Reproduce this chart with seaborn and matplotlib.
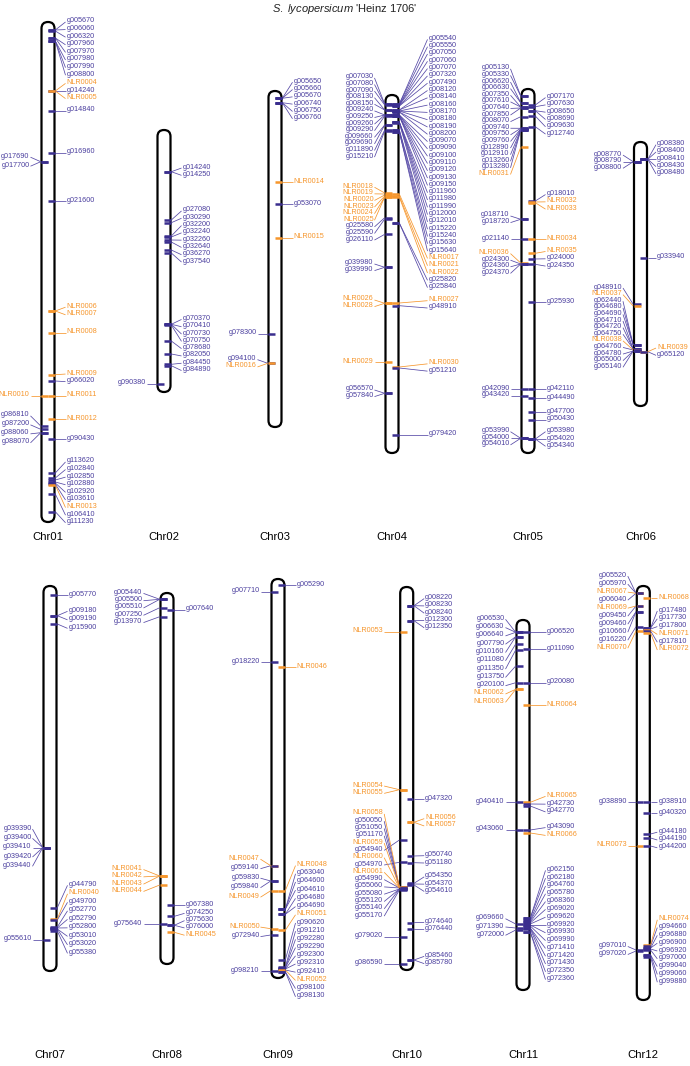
import numpy as np
import pandas as pd
import matplotlib
matplotlib.use("Agg")
import matplotlib.pyplot as plt
from matplotlib.patches import FancyBboxPatch
from matplotlib.collections import LineCollection
import seaborn as sns

# ---- data: chromosomes (map positions along each chromosome) ----
chrom_names = ["Chr01", "Chr02", "Chr03", "Chr04", "Chr05", "Chr06",
               "Chr07", "Chr08", "Chr09", "Chr10", "Chr11", "Chr12"]
chrom_start = [22, 130, 91, 95, 89, 142, 586, 593, 579, 587, 620, 586]
chrom_end = [522, 392, 427, 453, 453, 406, 971, 964, 978, 970, 990, 1000]

chr01_left_ids = ["g017690", "g017700", "NLR0010", "g086810", "g087200", "g088060", "g088070"]
chr01_left_pos = [161.7, 161.7, 395.7, 426, 429.3, 432.7, 432.7]
chr01_right_ids = ["g005670", "g006060", "g006320", "g007960", "g007970", "g007980", "g007990",
                   "g008800", "NLR0004", "g014240", "NLR0005", "g014840", "g016960", "g021600",
                   "NLR0006", "NLR0007", "NLR0008", "NLR0009", "g066020", "NLR0011", "NLR0012",
                   "g090430", "g113620", "g102840", "g102850", "g102880", "g102920", "g103610",
                   "NLR0013", "g106410", "g111230"]
chr01_right_pos = [30, 30, 31, 38, 38, 41, 41, 41, 91, 91, 91, 110.7, 152.7, 201, 311, 311, 332.7,
                   374.7, 381, 395.7, 419.3, 439.3, 473, 478, 480, 482, 483, 484, 485, 494, 511.7]

chr02_left_ids = ["g090380"]
chr02_left_pos = [384]
chr02_right_ids = ["g014240", "g014250", "g027080", "g030290", "g032200", "g032240", "g032260",
                   "g032640", "g036270", "g037540", "g070370", "g070410", "g070730", "g070750",
                   "g078680", "g082050", "g084450", "g084890"]
chr02_right_pos = [171.7, 171.7, 220, 222.7, 236, 237, 240, 242, 250, 253, 324.3, 324.3, 324.3,
                   325, 341, 354, 364.3, 365.7]

chr03_left_ids = ["g078300", "g094100", "NLR0016"]
chr03_left_pos = [334, 363.3, 363.3]
chr03_right_ids = ["g005650", "g005660", "g005670", "g006740", "g006750", "g006760", "NLR0014",
                   "g053070", "NLR0015"]
chr03_right_pos = [98.3, 98.3, 98.3, 102.7, 102.7, 102.7, 182.3, 204.3, 237.7]

chr04_left_ids = ["g007030", "g007080", "g007090", "g008130", "g008150", "g009240", "g009250",
                  "g009260", "g009290", "g009660", "g009690", "g011890", "g015210", "NLR0018",
                  "NLR0019", "NLR0020", "NLR0023", "NLR0024", "NLR0025", "g025580", "g025590",
                  "g026110", "g039980", "g039990", "NLR0026", "NLR0028", "NLR0029", "g056570",
                  "g057840"]
chr04_left_pos = [104, 104, 105, 110, 110, 115, 115, 115, 116, 125, 125, 130, 131, 193, 194, 195,
                  196, 197, 197, 217.7, 219, 234.3, 267.3, 267.3, 303.3, 303.3, 362.3, 393.3, 393.3]
chr04_right_ids = ["g005540", "g005550", "g007050", "g007060", "g007070", "g007320", "g007490",
                   "g008120", "g008140", "g008160", "g008170", "g008180", "g008190", "g008200",
                   "g009070", "g009090", "g009100", "g009110", "g009120", "g009130", "g009150",
                   "g011960", "g011980", "g011990", "g012000", "g012010", "g015220", "g015240",
                   "g015630", "g015640", "NLR0017", "NLR0021", "NLR0022", "g025820", "g025840",
                   "NLR0027", "g048910", "NLR0030", "g051210", "g079420"]
chr04_right_pos = [104, 104, 105, 105, 105, 106, 106, 110, 110, 111, 111, 111, 112, 112, 115, 115,
                   115, 116, 116, 116, 116, 122, 122, 122, 122, 123, 130, 130, 132, 132, 194, 196,
                   197, 223, 223, 303, 305.7, 367, 368, 434.7]

chr05_left_ids = ["g005130", "g005330", "g006620", "g006630", "g007350", "g007610", "g007640",
                  "g007850", "g008070", "g009740", "g009750", "g009760", "g012890", "g012910",
                  "g013260", "g013280", "NLR0031", "g018710", "g018720", "g021140", "NLR0036",
                  "g024300", "g024360", "g024370", "g042090", "g043420", "g053990", "g054000",
                  "g054010"]
chr05_left_pos = [96, 96, 102.7, 102.7, 107, 107, 108, 108, 116.7, 128.3, 128.3, 129, 129, 130,
                  130, 130, 147.3, 219.3, 219.3, 239, 263, 264, 264, 264, 389, 396, 438.3, 438.3,
                  438.3]
chr05_right_ids = ["g007170", "g007630", "g008650", "g008690", "g009630", "g012740", "g018010",
                   "NLR0032", "NLR0033", "NLR0034", "NLR0035", "g024000", "g024350", "g025930",
                   "g042110", "g044490", "g047700", "g050430", "g053980", "g054020", "g054340"]
chr05_right_pos = [105, 106.7, 110.7, 110.7, 116, 126.7, 201, 202, 202.7, 239, 253.3, 259, 264.3,
                   302.3, 389, 398.3, 412.3, 420, 439, 439, 439]

chr06_left_ids = ["g008770", "g008790", "g008800", "g048910", "NLR0037", "g062440", "g064680",
                  "g064690", "g064710", "g064720", "g064750", "NLR0038", "g064760", "g064780",
                  "g065000", "g065140"]
chr06_left_pos = [161.7, 161.7, 161.7, 304.3, 306, 345, 345, 345, 349, 349, 349, 350, 350, 351,
                  351, 351]
chr06_right_ids = ["g008380", "g008400", "g008410", "g008430", "g008480", "g033940", "NLR0039",
                   "g065120"]
chr06_right_pos = [159.3, 159.3, 159.3, 159.3, 159.3, 258, 351.7, 351.7]

chr07_left_ids = ["g039390", "g039400", "g039410", "g039420", "g039440", "g055610"]
chr07_left_pos = [847.7, 847.7, 847.7, 847.7, 847.7, 940]
chr07_right_ids = ["g005770", "g009180", "g009190", "g015900", "g044790", "NLR0040", "g049700",
                   "g052770", "g052790", "g052800", "g053010", "g053020", "g055380"]
chr07_right_pos = [595, 615.7, 615.7, 624, 907.7, 919, 920, 927, 928, 928, 929, 929, 931]

chr08_left_ids = ["g005440", "g005500", "g005510", "g007250", "g013970", "NLR0041", "NLR0042",
                  "NLR0043", "NLR0044", "g075640"]
chr08_left_pos = [599.3, 599.3, 599.3, 607.7, 616.7, 876, 876, 876, 885, 924.3]
chr08_right_ids = ["g007640", "g067380", "g074250", "g075630", "g076000", "NLR0045"]
chr08_right_pos = [610, 905.3, 916.3, 925.3, 925.3, 932.3]

chr09_left_ids = ["g007710", "g018220", "NLR0047", "g059140", "g059830", "g059840", "NLR0049",
                  "NLR0050", "g072940", "g098210"]
chr09_left_pos = [591.7, 662.3, 865.7, 865.7, 881, 881, 890.7, 928.7, 935, 971]
chr09_right_ids = ["g005290", "NLR0046", "NLR0048", "g063040", "g064600", "g064610", "g064680",
                   "g064690", "NLR0051", "g090620", "g091210", "g092280", "g092290", "g092300",
                   "g092310", "g092410", "NLR0052", "g098100", "g098130"]
chr09_right_pos = [585, 667.3, 890.7, 909.3, 909.3, 909.3, 914.3, 914.3, 930.3, 960, 967, 968,
                   968, 969, 969, 970, 970, 971.7, 971.7]

chr10_left_ids = ["NLR0053", "NLR0054", "NLR0055", "NLR0058", "g050050", "g051050", "g051170",
                  "NLR0059", "g054940", "NLR0060", "g054970", "NLR0061", "g054990", "g055060",
                  "g055080", "g055120", "g055140", "g055170", "g079020", "g086590"]
chr10_left_pos = [632, 789.7, 789.7, 887, 887, 887, 887, 887, 840, 888, 862.3, 888, 888, 888, 889,
                  889, 889, 890, 936.7, 964]
chr10_right_ids = ["g008220", "g008230", "g008240", "g012300", "g012350", "g047320", "NLR0056",
                   "NLR0057", "g050740", "g051180", "g054350", "g054370", "g054610", "g074640",
                   "g076440", "g085460", "g085780"]
chr10_right_pos = [605.7, 605.7, 605.7, 620.7, 620.7, 799.3, 822.3, 822.3, 856, 862.7, 883.3, 884,
                   885, 922.7, 929.3, 960, 960]

chr11_left_ids = ["g006530", "g006630", "g006640", "g007790", "g010160", "g011080", "g011350",
                  "g013750", "g020100", "NLR0062", "NLR0063", "g040410", "g043060", "g069660",
                  "g071390", "g072000"]
chr11_left_pos = [632.3, 632.3, 632.3, 636.7, 636.7, 644, 650, 666, 682.7, 689.3, 689.3, 802.3,
                  830, 924, 928, 930]
chr11_right_ids = ["g006520", "g011090", "g020080", "NLR0064", "NLR0065", "g042730", "g042770",
                   "g043090", "NLR0066", "g062150", "g062180", "g064760", "g065780", "g068360",
                   "g069020", "g069620", "g069920", "g069930", "g069990", "g071410", "g071420",
                   "g071430", "g072350", "g072360"]
chr11_right_pos = [632.3, 649.3, 682.7, 705, 802.3, 804, 806, 830, 833, 918, 918, 920, 921, 922,
                   923, 924, 925, 925, 926, 928, 928, 929, 932, 932]

chr12_left_ids = ["g005520", "g005970", "NLR0067", "g006040", "NLR0069", "g009450", "g009460",
                  "g010660", "g016220", "NLR0070", "g038890", "NLR0073", "g097010", "g097020"]
chr12_left_pos = [593.3, 593.3, 593.3, 593.3, 606, 606, 611.7, 611.7, 626.7, 631, 802.3, 846, 950,
                  951]
chr12_right_ids = ["NLR0068", "g017480", "g017730", "g017800", "NLR0071", "g017810", "NLR0072",
                   "g038910", "g040320", "g044180", "g044190", "g044200", "NLR0074", "g094660",
                   "g096880", "g096900", "g096920", "g097000", "g099040", "g099060", "g099880"]
chr12_right_pos = [598.3, 628, 628, 629, 630, 631, 633, 802.3, 813.3, 834, 838, 846, 945, 946, 948,
                   948, 949, 950, 955, 955, 957]

left_ids = [chr01_left_ids, chr02_left_ids, chr03_left_ids, chr04_left_ids, chr05_left_ids,
            chr06_left_ids, chr07_left_ids, chr08_left_ids, chr09_left_ids, chr10_left_ids,
            chr11_left_ids, chr12_left_ids]
left_pos = [chr01_left_pos, chr02_left_pos, chr03_left_pos, chr04_left_pos, chr05_left_pos,
            chr06_left_pos, chr07_left_pos, chr08_left_pos, chr09_left_pos, chr10_left_pos,
            chr11_left_pos, chr12_left_pos]
right_ids = [chr01_right_ids, chr02_right_ids, chr03_right_ids, chr04_right_ids, chr05_right_ids,
             chr06_right_ids, chr07_right_ids, chr08_right_ids, chr09_right_ids, chr10_right_ids,
             chr11_right_ids, chr12_right_ids]
right_pos = [chr01_right_pos, chr02_right_pos, chr03_right_pos, chr04_right_pos, chr05_right_pos,
             chr06_right_pos, chr07_right_pos, chr08_right_pos, chr09_right_pos, chr10_right_pos,
             chr11_right_pos, chr12_right_pos]

# ---- layout / style ----
W, H = 690, 1066
chrom_x = [48, 164, 275, 392, 528, 640.5, 50, 167, 278, 406.7, 523, 643.3]
name_y = [537, 1055]
label_top = [22, 559]
CW = 13
NAVY = "#3a2e8e"
NAVY_TXT = "#4a3e9e"
NAVY_LINE = "#5548a6"
ORANGE = "#f6962c"
gaps = {("Chr01", "R"): 7.6, ("Chr01", "L"): 9.0, ("Chr04", "L"): 6.6, ("Chr05", "L"): 6.6,
        ("Chr06", "L"): 6.6, ("Chr07", "L"): 9.3, ("Chr07", "R"): 8.5, ("Chr09", "R"): 8.2,
        ("Chr09", "L"): 9.5, ("Chr11", "L"): 8.3, ("Chr11", "R"): 7.8, ("Chr12", "L"): 8.0,
        ("Chr12", "R"): 7.8}
offsets = {("Chr04", "R"): 30, ("Chr08", "L"): 18, ("Chr10", "L"): 17, ("Chr11", "R"): 17,
           ("Chr06", "R"): 10, ("Chr12", "R"): 8.5, ("Chr12", "L"): 10}

sns.set_theme(style="white")
plt.rcParams["font.family"] = ["Liberation Sans", "DejaVu Sans"]
plt.rcParams["mathtext.fontset"] = "custom"
plt.rcParams["mathtext.it"] = "Liberation Sans:italic"
plt.rcParams["mathtext.rm"] = "Liberation Sans"


def spread(targets, gap, lo):
    # stack overlapping labels into blocks centred on the span of their markers
    def top(b):
        return max(lo, (b[2] + b[3]) / 2 - (b[1] - b[0]) * gap / 2)

    blocks = []
    for i, t in enumerate(targets):
        blocks.append([i, i, t, t])
        while len(blocks) > 1:
            a, b = blocks[-2], blocks[-1]
            if top(b) >= top(a) + (a[1] - a[0] + 1) * gap:
                break
            blocks[-2:] = [[a[0], b[1], min(a[2], b[2]), max(a[3], b[3])]]
    out = []
    for b in blocks:
        out += [top(b) + j * gap for j in range(b[1] - b[0] + 1)]
    return np.array(out)


fig = plt.figure(figsize=(W / 100, H / 100), dpi=100)
ax = fig.add_axes([0, 0, 1, 1])

tick_rows = []
segs = {"gene": [], "NLR": []}
for i, chrom in enumerate(chrom_names):
    cx = chrom_x[i]
    ax.add_patch(FancyBboxPatch((cx - CW / 2, chrom_start[i]), CW, chrom_end[i] - chrom_start[i],
                                boxstyle=f"round,pad=0,rounding_size={CW / 2}",
                                fc="white", ec="black", lw=1.6, zorder=2))
    ax.text(cx, name_y[i // 6], chrom, ha="center", va="center", fontsize=8.2, color="black")
    for side, ids, pos in (("L", left_ids[i], left_pos[i]), ("R", right_ids[i], right_pos[i])):
        if not ids:
            continue
        sgn = -1 if side == "L" else 1
        edge = cx + sgn * CW / 2
        ends = spread(pos, gaps.get((chrom, side), 7.3), label_top[i // 6])
        tx = edge + sgn * offsets.get((chrom, side), 12)
        for gid, p, e in zip(ids, pos, ends):
            kind = "NLR" if gid.startswith("NLR") else "gene"
            tick_rows.append({"x": cx + sgn * CW / 4, "pos": p, "kind": kind})
            segs[kind].append([(edge + sgn * 0.8, p), (tx - sgn * 1.0, e)])
            ax.text(tx, e - 2, gid, ha="left" if side == "R" else "right", va="center_baseline",
                    fontsize=5.25, color=ORANGE if kind == "NLR" else NAVY_TXT, zorder=5)

ax.add_collection(LineCollection(segs["gene"], colors=NAVY_LINE, linewidths=0.55, zorder=3))
ax.add_collection(LineCollection(segs["NLR"], colors=ORANGE, linewidths=0.55, zorder=3))

ticks = pd.DataFrame(tick_rows)
sns.scatterplot(data=ticks, x="x", y="pos", hue="kind", hue_order=["gene", "NLR"],
                palette={"gene": NAVY, "NLR": ORANGE}, marker="_", s=24, linewidth=1.8,
                legend=False, ax=ax, zorder=4)

ax.text(W / 2, 9, r"$\it{S.\ lycopersicum}$ 'Heinz 1706'", ha="center", va="center",
        fontsize=8, color="#222222")

ax.set_xlim(0, W)
ax.set_ylim(H, 0)
ax.axis("off")
fig.savefig("out.png", dpi=100, facecolor="white")
